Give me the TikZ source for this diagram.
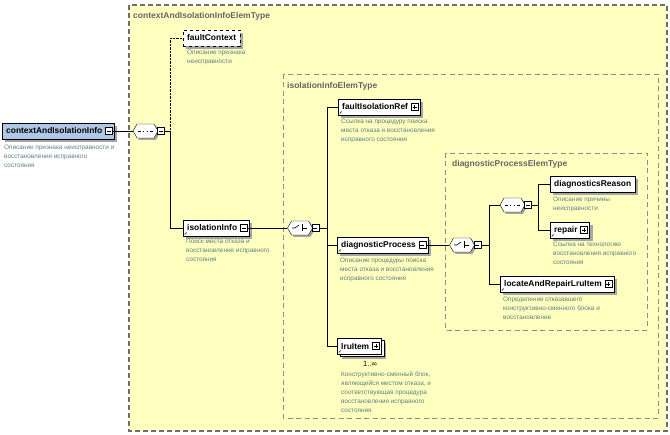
\documentclass[tikz,border=0pt]{standalone}
\usepackage{fontspec}
\setmainfont{Liberation Sans}
\usetikzlibrary{positioning, shapes.symbols, shadows, calc}
\definecolor{typeyellow}{RGB}{255,255,192}
\definecolor{framegray}{RGB}{110,110,110}
\definecolor{descgray}{RGB}{90,130,128}
\definecolor{rootblue}{RGB}{176,200,232}
\tikzset{
  elem/.style={draw, fill=white, anchor=west, inner xsep=4pt, inner ysep=0pt,
    minimum height=16pt, font=\fontsize{8.4}{9}\selectfont\bfseries,
    drop shadow={shadow xshift=3pt, shadow yshift=-3pt, fill=black!35, opacity=1}},
  kids/.style={execute at end node={\hspace{8pt}}},
  optional/.style={dashed},
  multi/.style={drop shadow={shadow xshift=5pt, shadow yshift=-5pt, fill=black!35, opacity=1},
    copy shadow={shadow xshift=2.5pt, shadow yshift=-2.5pt}},
  refmark/.style={path picture={
    \fill ([shift={(1pt,1pt)}]path picture bounding box.south west) -- ++(2.2pt,0) -- ++(-2.2pt,2.2pt) -- cycle;
    \draw[line width=.5pt] ([shift={(1.5pt,1.5pt)}]path picture bounding box.south west) -- ++(2pt,2pt);}},
  topmark/.style={path picture={
    \fill ([shift={(1pt,1pt)}]path picture bounding box.south west) -- ++(2.2pt,0) -- ++(-2.2pt,2.2pt) -- cycle;
    \fill ([shift={(1pt,-1pt)}]path picture bounding box.north west) rectangle ++(3pt,-1.3pt);}},
  minusbox/.style={draw, fill=white, inner sep=0pt, minimum size=7pt,
    path picture={\draw ([xshift=1.5pt]path picture bounding box.west) -- ([xshift=-1.5pt]path picture bounding box.east);}},
  plusbox/.style={draw, fill=white, inner sep=0pt, minimum size=7pt,
    path picture={\draw ([xshift=1.5pt]path picture bounding box.west) -- ([xshift=-1.5pt]path picture bounding box.east);
      \draw ([yshift=-1.5pt]path picture bounding box.north) -- ([yshift=1.5pt]path picture bounding box.south);}},
  comp/.style={signal, signal to=east and west, signal pointer angle=120,
    draw, fill=white, inner sep=0pt, minimum width=25pt, minimum height=14pt,
    drop shadow={shadow xshift=2pt, shadow yshift=-2pt, fill=black!35, opacity=1}},
  seqsym/.style={path picture={
    \draw[line width=.5pt] ([xshift=5pt]path picture bounding box.west) -- ([xshift=-5pt]path picture bounding box.east);
    \foreach \d in {-3.5,0,3.5}
      \fill ([xshift=\d pt]path picture bounding box.center) +(-1.2pt,-1.2pt) rectangle +(1.2pt,1.2pt);}},
  choicesym/.style={path picture={
    \draw[line width=.6pt] ([xshift=-8pt]path picture bounding box.center) -- ++(3pt,0) -- ++(4pt,3pt);
    \draw[line width=.6pt] ([shift={(2.5pt,3.5pt)}]path picture bounding box.center) -- ++(0,-7pt);
    \draw[line width=.6pt] ([xshift=2.5pt]path picture bounding box.center) -- ++(4pt,0);
    \foreach \d in {-3,0,3}
      \fill ([shift={(0.5pt,\d pt)}]path picture bounding box.center) +(-0.9pt,-0.9pt) rectangle +(0.9pt,0.9pt);}},
  desc/.style={anchor=north west, align=left, inner sep=0pt,
    font=\fontsize{6.4}{9}\selectfont, text=descgray},
  framelabel/.style={anchor=west, inner sep=0pt, font=\fontsize{8.5}{9}\selectfont\bfseries, text=black!60},
  outerframe/.style={draw=framegray, fill=typeyellow, line width=1.1pt, dash pattern=on 5pt off 3pt},
  innerframe/.style={draw=black!45, fill=typeyellow, line width=.7pt, dash pattern=on 5pt off 3.5pt}
}

\begin{document}
\begin{tikzpicture}[x=1pt, y=-1pt]
    \useasboundingbox (0,0) rectangle (670,435);

    % type frames
    \draw[outerframe] (129,5) rectangle (667,431);
    \node[framelabel] (ctxType) at (133,16) {contextAndIsolationInfoElemType};
    \draw[innerframe] (283,74) rectangle (658,418);
    \node[framelabel] (isoType) at (287,86) {isolationInfoElemType};
    \draw[innerframe] (445,153) rectangle (647,330);
    \node[framelabel] (dpType) at (452,164) {diagnosticProcessElemType};

    % root element
    \node[elem, kids, fill=rootblue] (ctx) at (2,131) {contextAndIsolationInfo};
    \node[minusbox, anchor=east] (ctxX) at ([xshift=-2pt]ctx.east) {};
    \node[desc] (ctxD) at (4,145) {Описание признака неисправности и\\восстановления исправного\\состояния};

    \node[comp, seqsym] (seqA) at (145.5,131) {};
    \node[minusbox, anchor=west] (seqAX) at ([xshift=-1pt]seqA.east) {};
    \coordinate (busA) at ([xshift=6pt]seqAX.east);

    \node[elem, optional, topmark] (fc) at (183,38) {faultContext};
    \node[desc] (fcD) at (187,50) {Описание признака\\неисправности};

    \node[elem, kids, refmark] (iso) at (183,228) {isolationInfo};
    \node[minusbox, anchor=east] (isoX) at ([xshift=-2pt]iso.east) {};
    \node[desc] (isoD) at (186,239) {Поиск места отказа и\\восстановление исправного\\состояния};

    \node[comp, choicesym] (choiceA) at (300,228) {};
    \node[minusbox, anchor=west] (choiceAX) at ([xshift=-1pt]choiceA.east) {};
    \coordinate (busB) at ([xshift=8pt]choiceAX.east);

    % isolationInfoElemType
    \node[elem, kids, refmark] (fir) at (338,107) {faultIsolationRef};
    \node[plusbox, anchor=east] (firX) at ([xshift=-2pt]fir.east) {};
    \node[desc] (firD) at (341,119) {Ссылка на процедуру поиска\\места отказа и восстановления\\исправного состояния};

    \node[elem, kids, refmark] (dp) at (337,245) {diagnosticProcess};
    \node[minusbox, anchor=east] (dpX) at ([xshift=-2pt]dp.east) {};
    \node[desc] (dpD) at (340,258) {Описание процедуры поиска\\места отказа и восстановления\\исправного состояния};

    \node[elem, kids, refmark, multi] (lru) at (337,346) {lruItem};
    \node[plusbox, anchor=east] (lruX) at ([xshift=-2pt]lru.east) {};
    \node[anchor=west, inner sep=0pt, font=\fontsize{7.5}{8}\selectfont] (lruN) at (363,364) {1..∞};
    \node[desc] (lruD) at (341,372) {Конструктивно-сменный блок,\\являющийся местом отказа, и\\соответствующая процедура\\восстановления исправного\\состояния};

    \node[comp, choicesym] (choiceB) at (462,245) {};
    \node[minusbox, anchor=west] (choiceBX) at ([xshift=-1pt]choiceB.east) {};
    \coordinate (busC) at ([xshift=8pt]choiceBX.east);

    % diagnosticProcessElemType
    \node[comp, seqsym] (seqB) at (512.5,205) {};
    \node[minusbox, anchor=west] (seqBX) at ([xshift=-1pt]seqB.east) {};
    \coordinate (busD) at ([xshift=7pt]seqBX.east);

    \node[elem, topmark] (dr) at (550,184) {diagnosticsReason};
    \node[desc] (drD) at (553,197) {Описание причины\\неисправности};

    \node[elem, kids, refmark] (rep) at (550,230) {repair};
    \node[plusbox, anchor=east] (repX) at ([xshift=-2pt]rep.east) {};
    \node[desc] (repD) at (553,242) {Ссылка на технологию\\восстановления исправного\\состояния};

    \node[elem, kids, refmark] (larl) at (500,284) {locateAndRepairLruItem};
    \node[plusbox, anchor=east] (larlX) at ([xshift=-2pt]larl.east) {};
    \node[desc] (larlD) at (503,297) {Определение отказавшего\\конструктивно-сменного блока и\\восстановление};

    % connectors
    \draw (ctxX) -- (seqA);
    \draw (seqAX) -- (busA);
    \draw[densely dotted] (busA) |- (fc.west);
    \draw (busA) |- (iso.west);

    \draw (isoX) -- (choiceA);
    \draw (choiceAX) -- (busB);
    \draw (busB) |- (fir.west);
    \draw (busB) |- (dp.west);
    \draw (busB) |- (lru.west);

    \draw (dpX) -- (choiceB);
    \draw (choiceBX) -- (busC);
    \draw (busC) |- (seqB.west);
    \draw (busC) |- (larl.west);

    \draw (seqBX) -- (busD);
    \draw (busD) |- (dr.west);
    \draw (busD) |- (rep.west);
\end{tikzpicture}
\end{document}
